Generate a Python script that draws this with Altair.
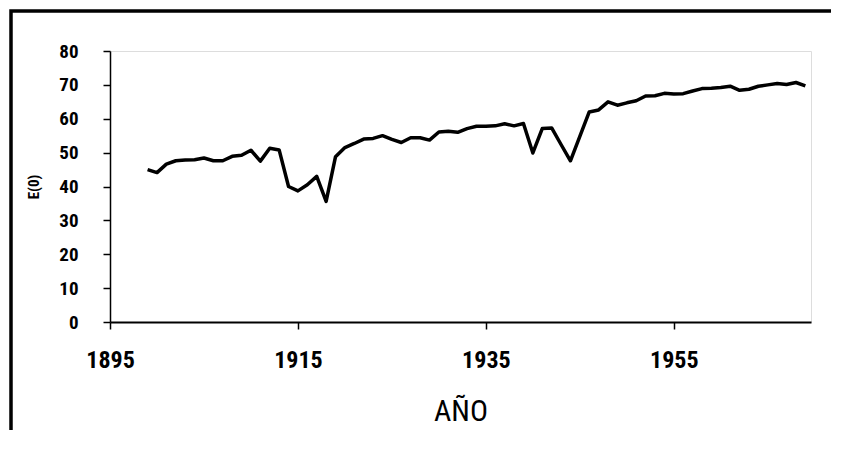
import altair as alt
import pandas as pd

years = list(range(1899, 1970))
e0 = [45.0, 44.1, 46.6, 47.6, 47.8, 47.9, 48.4, 47.6, 47.6, 48.9,
      49.2, 50.7, 47.5, 51.3, 50.8, 40.0, 38.7, 40.5, 43.0, 35.6,
      48.8, 51.5, 52.7, 54.0, 54.2, 55.0, 53.9, 53.0, 54.4, 54.4,
      53.7, 56.1, 56.3, 56.0, 57.1, 57.8, 57.8, 57.9, 58.5, 57.9,
      58.6, 49.9, 57.1, 57.3, 52.4, 47.6, 54.8, 62.0, 62.6, 65.0,
      64.0, 64.7, 65.3, 66.7, 66.8, 67.5, 67.3, 67.4, 68.2, 68.9,
      69.0, 69.2, 69.6, 68.4, 68.7, 69.6, 70.0, 70.4, 70.1, 70.7,
      69.7]
x_ticks = [1895, 1915, 1935, 1955]
y_ticks = [0, 10, 20, 30, 40, 50, 60, 70, 80]

df = pd.DataFrame({"year": years, "e0": e0})

FONT = "Liberation Sans Narrow, Arial Narrow, Roboto Condensed, DejaVu Sans Condensed, sans-serif"

W, H = 701, 271
PAD = {"left": 102, "top": 43, "right": 20, "bottom": 108}

line = alt.Chart(df).mark_line(color="black", strokeWidth=3.5, strokeJoin="round").encode(
    x=alt.X("year:Q", scale=alt.Scale(domain=[1895, 1969.6], nice=False, zero=False),
            axis=alt.Axis(values=x_ticks, format="d", title="AÑO", grid=False,
                          labelFontSize=24, labelFont=FONT, labelFontWeight="bold",
                          labelColor="black", labelPadding=19, labelFlush=False,
                          tickSize=7, tickColor="black", tickWidth=1.5,
                          domainColor="black", domainWidth=2,
                          titleFont=FONT, titleFontSize=30, titleFontWeight="normal",
                          titleColor="black", titlePadding=24)),
    y=alt.Y("e0:Q", scale=alt.Scale(domain=[0, 80], nice=False),
            axis=alt.Axis(values=y_ticks, title="E(0)", grid=False,
                          labelFontSize=19, labelFont=FONT, labelFontWeight="bold",
                          labelColor="black", labelPadding=25,
                          tickSize=7, tickColor="black", tickWidth=1.5,
                          domainColor="black", domainWidth=1.5,
                          titleFont=FONT, titleFontSize=15, titleFontWeight="bold",
                          titleColor="black", titleAngle=270,
                          titleX=-77, titleY=H / 2, titleAlign="center",
                          titleBaseline="middle")),
)

frame_df = pd.DataFrame({"a": [0]})
frame = alt.Chart(frame_df).mark_rect(fill=None, stroke="black", strokeWidth=3.5).encode(
    x=alt.value(-99), x2=alt.value(W + 200), y=alt.value(-40), y2=alt.value(H + 300)
)

chart = alt.layer(frame, line).properties(
    width=W, height=H,
    autosize=alt.AutoSizeParams(type="none"),
    padding=PAD,
).configure_view(stroke=None).configure(background="white")

chart.save("out.html", embed_options={"renderer": "svg", "actions": False})
